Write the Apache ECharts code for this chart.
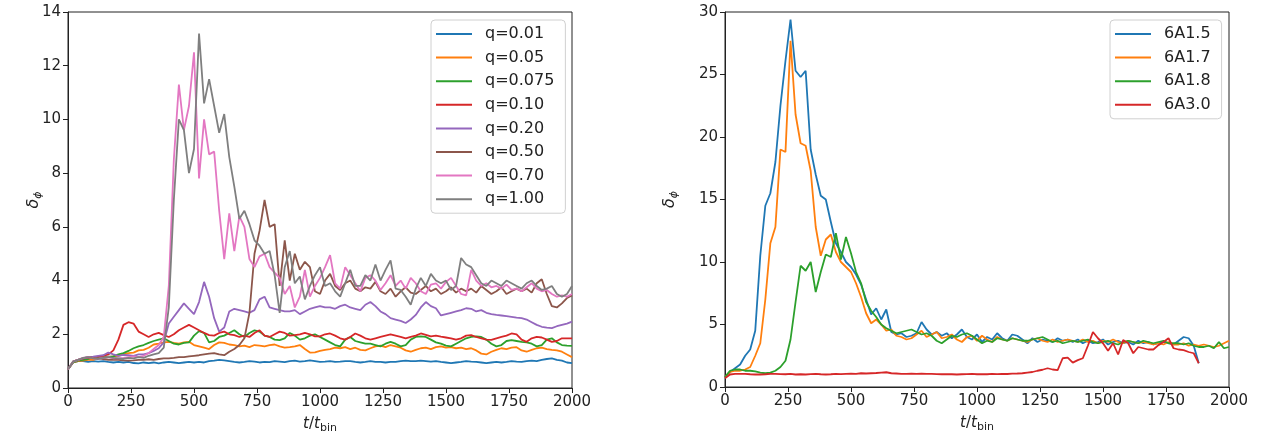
<!DOCTYPE html>
<html><head><meta charset="utf-8">
<script src="https://cdn.jsdelivr.net/npm/echarts@6/dist/echarts.min.js"></script>
<style>html,body{margin:0;padding:0;background:#fff}#c{width:1263px;height:441px}</style>
</head><body><div id="c"></div>
<script>
// time sampling of all series: t = index * STEP (t/t_bin)
const STEP = 20;
const X_TICKS = [0, 250, 500, 750, 1000, 1250, 1500, 1750, 2000];

// ---------- left panel: q runs ----------
const LEFT_NAMES = ['q=0.01','q=0.05','q=0.075','q=0.10','q=0.20','q=0.50','q=0.70','q=1.00'];
const Q001 = [0.70,0.95,1.00,1.00,0.97,1.00,0.98,1.00,0.97,0.95,
 0.97,0.95,0.97,0.93,0.92,0.95,0.93,0.95,0.92,0.95,
 0.97,0.95,0.93,0.95,0.97,0.95,0.97,0.95,1.00,1.02,
 1.05,1.03,1.00,0.97,0.95,0.97,1.00,0.98,0.95,0.97,
 0.96,1.00,0.98,0.96,1.00,1.02,0.98,1.00,1.03,1.00,
 0.97,0.98,1.00,0.97,0.98,1.00,1.00,0.97,0.95,0.97,
 1.00,0.97,0.97,0.95,0.97,0.97,1.00,1.02,1.00,1.00,
 1.02,1.00,0.98,1.00,0.97,0.95,0.93,0.95,0.97,1.00,
 0.98,0.97,0.95,0.93,0.95,0.97,0.95,0.97,1.00,0.98,
 0.97,1.00,1.02,1.00,1.05,1.08,1.10,1.05,1.02,0.95,
 0.93];
const Q005 = [0.70,0.95,1.00,1.02,1.05,1.05,1.10,1.12,1.15,1.18,
 1.20,1.25,1.30,1.32,1.40,1.42,1.50,1.62,1.65,1.70,
 1.72,1.68,1.65,1.70,1.72,1.60,1.55,1.50,1.45,1.60,
 1.70,1.68,1.62,1.60,1.55,1.58,1.52,1.60,1.58,1.55,
 1.60,1.62,1.55,1.50,1.52,1.55,1.60,1.45,1.32,1.33,
 1.38,1.42,1.45,1.50,1.48,1.52,1.45,1.50,1.42,1.40,
 1.48,1.55,1.58,1.52,1.60,1.55,1.50,1.40,1.35,1.42,
 1.48,1.50,1.45,1.52,1.55,1.50,1.52,1.48,1.50,1.45,
 1.48,1.40,1.28,1.25,1.35,1.42,1.48,1.45,1.50,1.52,
 1.40,1.35,1.42,1.48,1.50,1.45,1.42,1.40,1.35,1.25,
 1.15];
const Q0075 = [0.70,0.95,1.02,1.05,1.08,1.15,1.17,1.15,1.17,1.18,
 1.25,1.30,1.38,1.48,1.55,1.60,1.68,1.75,1.80,1.85,
 1.75,1.65,1.62,1.68,1.70,1.95,2.12,2.05,1.70,1.75,
 1.90,1.95,2.05,2.15,2.00,1.90,2.05,2.15,2.10,1.95,
 1.90,1.80,1.78,1.85,2.05,1.95,1.80,1.85,1.95,2.00,
 1.90,1.80,1.70,1.60,1.55,1.80,1.90,1.75,1.70,1.65,
 1.65,1.60,1.55,1.65,1.72,1.65,1.55,1.60,1.80,1.90,
 1.92,1.90,1.80,1.70,1.65,1.58,1.55,1.65,1.75,1.85,
 1.90,1.92,1.90,1.80,1.65,1.55,1.60,1.75,1.78,1.75,
 1.72,1.70,1.65,1.55,1.60,1.80,1.85,1.70,1.60,1.58,
 1.57];
const Q010 = [0.70,0.98,1.05,1.10,1.12,1.15,1.17,1.20,1.25,1.40,
 1.80,2.35,2.45,2.40,2.10,2.00,1.90,2.00,2.05,1.97,
 1.90,2.00,2.15,2.25,2.35,2.25,2.15,2.05,1.97,1.95,
 2.05,2.10,2.00,1.97,1.90,1.95,1.90,2.05,2.15,1.95,
 1.90,2.00,2.10,2.05,1.95,1.97,2.00,2.05,2.00,1.92,
 1.92,2.00,2.03,1.95,1.85,1.80,1.90,2.03,1.95,1.85,
 1.80,1.85,1.90,1.95,2.00,1.95,1.90,1.85,1.90,1.95,
 2.03,1.98,1.92,1.95,1.91,1.88,1.85,1.80,1.85,1.95,
 1.97,1.90,1.85,1.80,1.79,1.85,1.90,1.95,2.03,2.00,
 1.80,1.72,1.85,1.90,1.88,1.80,1.72,1.75,1.85,1.85,
 1.85];
const Q020 = [0.70,0.98,1.05,1.10,1.15,1.17,1.20,1.22,1.32,1.25,
 1.20,1.23,1.22,1.20,1.25,1.25,1.30,1.38,1.48,1.70,
 2.40,2.65,2.90,3.15,2.95,2.75,3.20,3.95,3.40,2.60,
 2.10,2.25,2.85,2.95,2.90,2.85,2.80,2.90,3.30,3.40,
 3.00,2.95,2.90,2.85,2.85,2.90,2.75,2.85,2.95,3.00,
 3.05,3.00,3.00,2.95,3.05,3.10,3.00,2.95,2.90,3.10,
 3.20,3.05,2.85,2.75,2.60,2.55,2.50,2.42,2.55,2.72,
 3.00,3.20,3.05,2.97,2.70,2.75,2.80,2.85,2.90,2.97,
 2.95,2.85,2.90,2.80,2.75,2.72,2.70,2.68,2.65,2.62,
 2.60,2.55,2.45,2.35,2.28,2.25,2.23,2.30,2.35,2.40,
 2.47];
const Q050 = [0.70,0.98,1.05,1.10,1.15,1.12,1.10,1.08,1.05,1.05,
 1.05,1.03,1.02,1.03,1.05,1.05,1.07,1.05,1.08,1.10,
 1.10,1.12,1.15,1.15,1.18,1.20,1.22,1.25,1.28,1.30,
 1.25,1.22,1.35,1.45,1.60,1.85,2.80,5.00,5.85,7.00,
 6.00,6.10,3.80,5.50,4.00,5.00,4.40,4.70,4.50,3.60,
 3.50,4.00,4.25,3.80,3.65,3.90,4.00,3.70,3.60,3.75,
 3.70,3.95,3.60,3.50,3.70,3.40,3.60,3.75,3.55,3.50,
 3.65,3.80,3.60,3.70,3.50,3.60,3.75,3.55,3.70,3.60,
 3.70,3.55,3.80,3.65,3.50,3.60,3.75,3.50,3.60,3.70,
 3.60,3.70,3.55,3.90,4.05,3.50,3.05,3.00,3.15,3.35,
 3.45];
const Q070 = [0.70,0.98,1.05,1.12,1.15,1.10,1.08,1.12,1.15,1.10,
 1.10,1.12,1.15,1.18,1.15,1.20,1.30,1.45,1.60,1.90,
 3.80,8.50,11.30,9.60,10.50,12.50,7.80,10.00,8.70,8.80,
 6.60,4.80,6.50,5.10,6.40,6.00,4.80,4.50,4.90,5.00,
 4.50,4.30,4.10,3.50,3.80,3.00,3.40,4.40,3.40,3.80,
 4.10,4.50,4.95,3.90,3.70,4.50,4.20,3.90,3.60,4.10,
 4.20,4.00,3.65,3.90,4.20,3.80,4.00,3.70,4.10,3.90,
 3.60,3.50,3.85,3.90,3.70,3.95,4.10,3.80,3.50,3.45,
 4.40,4.00,3.80,3.90,3.75,3.80,3.70,3.85,3.65,3.70,
 3.60,3.75,3.90,3.70,3.60,3.65,3.50,3.40,3.45,3.40,
 3.50];
const Q100 = [0.70,0.98,1.05,1.12,1.15,1.10,1.08,1.12,1.15,1.12,
 1.10,1.08,1.12,1.10,1.15,1.12,1.20,1.25,1.30,1.50,
 3.00,7.00,10.00,9.60,8.00,8.90,13.20,10.60,11.50,10.50,
 9.50,10.20,8.60,7.50,6.30,6.60,6.10,5.50,5.30,5.00,
 5.10,4.20,2.80,4.50,5.10,3.90,4.15,3.30,3.80,4.20,
 4.50,3.80,3.90,3.60,3.40,3.90,4.40,3.80,3.80,4.20,
 4.00,4.60,4.00,4.40,4.75,3.70,3.65,3.40,3.10,3.70,
 4.10,3.80,4.25,4.00,3.90,4.00,3.65,3.80,4.84,4.60,
 4.50,4.20,3.90,3.80,4.00,3.90,3.80,4.00,3.90,3.80,
 3.70,3.90,4.00,3.80,3.65,3.70,3.80,3.50,3.40,3.50,
 3.80];
const LEFT_DATA = [Q001, Q005, Q0075, Q010, Q020, Q050, Q070, Q100];
const LEFT_Y_TICKS = [0, 2, 4, 6, 8, 10, 12, 14];

// ---------- right panel: 6A runs ----------
const RIGHT_NAMES = ['6A1.5','6A1.7','6A1.8','6A3.0'];
const A15 = [0.80,1.20,1.50,1.80,2.50,3.00,4.50,10.50,14.50,15.50,
 18.00,22.50,26.10,29.40,25.30,24.80,25.30,19.00,17.00,15.30,
 15.00,13.20,11.50,10.80,10.00,9.60,9.00,8.20,7.00,5.80,
 6.30,5.40,6.20,4.40,4.20,4.30,4.00,4.10,4.30,5.20,
 4.60,4.20,4.40,4.10,4.30,3.90,4.20,4.60,4.00,3.80,
 4.20,3.60,4.00,3.80,4.30,3.90,3.70,4.20,4.10,3.80,
 3.50,3.90,3.60,3.80,3.70,3.60,3.90,3.70,3.80,3.60,
 3.80,3.50,3.70,3.50,3.60,3.80,3.40,3.60,3.70,3.50,
 3.60,3.40,3.70,3.50,3.60,3.40,3.50,3.60,3.50,3.40,
 3.70,4.00,3.90,3.30,1.90];
const A17 = [0.80,1.20,1.30,1.30,1.40,1.60,2.50,3.50,7.00,11.50,
 12.80,19.00,18.80,27.70,21.80,19.50,19.30,17.30,12.80,10.50,
 11.80,12.20,10.80,10.00,9.60,9.20,8.30,7.20,5.90,5.10,
 5.40,5.00,4.50,4.60,4.10,4.00,3.80,3.90,4.20,4.50,
 4.00,4.20,4.40,3.90,4.00,4.20,3.80,3.60,4.00,4.10,
 3.70,4.10,3.80,3.60,4.00,3.80,3.70,3.90,3.80,3.70,
 3.60,3.80,3.90,3.70,3.60,3.80,3.60,3.70,3.80,3.70,
 3.60,3.80,3.60,3.70,3.50,3.70,3.60,3.80,3.60,3.50,
 3.70,3.60,3.50,3.60,3.50,3.40,3.50,3.40,3.60,3.40,
 3.40,3.50,3.30,3.40,3.30,3.40,3.30,3.20,3.30,3.50,
 3.70];
const A18 = [0.80,1.30,1.40,1.40,1.30,1.30,1.25,1.15,1.10,1.15,
 1.30,1.60,2.10,3.80,6.80,9.70,9.30,10.00,7.60,9.20,
 10.60,10.40,12.30,10.20,12.00,10.70,9.20,8.30,6.80,6.10,
 5.60,5.00,4.70,4.50,4.30,4.40,4.50,4.60,4.40,4.20,
 4.30,4.10,3.70,3.50,3.80,4.10,4.00,4.20,4.30,4.10,
 3.80,3.50,3.70,3.60,3.90,3.80,3.70,3.90,3.80,3.70,
 3.70,3.80,3.90,4.00,3.80,3.60,3.70,3.50,3.60,3.70,
 3.60,3.70,3.80,3.60,3.50,3.60,3.70,3.50,3.40,3.60,
 3.70,3.60,3.50,3.70,3.60,3.50,3.60,3.70,3.50,3.50,
 3.50,3.40,3.50,3.30,3.20,3.20,3.30,3.10,3.60,3.10,
 3.20];
const A30 = [0.70,1.00,1.05,1.05,1.05,1.02,1.00,1.00,1.02,1.05,
 1.05,1.03,1.02,1.05,1.00,1.02,1.00,1.03,1.05,1.02,
 1.00,1.02,1.05,1.03,1.05,1.07,1.05,1.10,1.08,1.10,
 1.12,1.15,1.18,1.10,1.08,1.05,1.05,1.07,1.05,1.06,
 1.05,1.05,1.03,1.02,1.03,1.02,1.00,1.02,1.03,1.05,
 1.02,1.03,1.02,1.05,1.03,1.05,1.04,1.07,1.08,1.10,
 1.15,1.20,1.30,1.38,1.50,1.40,1.35,2.30,2.35,1.95,
 2.15,2.30,3.30,4.40,3.90,3.50,2.90,3.50,2.60,3.75,
 3.50,2.70,3.20,3.10,3.00,3.00,3.35,3.60,3.90,3.10,
 3.00,2.95,2.80,2.70,1.90];
const RIGHT_DATA = [A15, A17, A18, A30];
const RIGHT_Y_TICKS = [0, 5, 10, 15, 20, 25, 30];

const COLORS_LEFT = ['#1f77b4','#ff7f0e','#2ca02c','#d62728','#9467bd','#8c564b','#e377c2','#7f7f7f'];
const COLORS_RIGHT = ['#1f77b4','#ff7f0e','#2ca02c','#d62728'];

const FONT = 'DejaVu Sans';
const INK = '#222';

function xAxis(gridIndex) {
  return {
    type: 'value', gridIndex, min: X_TICKS[0], max: X_TICKS[X_TICKS.length-1],
    interval: X_TICKS[1]-X_TICKS[0],
    axisLine: {show: true, onZero: false, lineStyle: {color: INK, width: 1}},
    axisTick: {show: true, length: 5, lineStyle: {color: INK}},
    axisLabel: {color: INK, fontFamily: FONT, fontSize: 15, margin: 7, formatter: v => String(v)},
    splitLine: {show: false},
    name: '{i|t}{n|/}{i|t}{s|bin}', nameLocation: 'middle', nameGap: 26,
    nameTextStyle: {
      color: INK, fontFamily: FONT, fontSize: 15,
      rich: {
        i: {fontStyle: 'italic', fontFamily: FONT, fontSize: 15, color: INK},
        n: {fontFamily: FONT, fontSize: 15, color: INK},
        s: {fontFamily: FONT, fontSize: 11, color: INK, padding: [9, 0, 0, 0]}
      }
    }
  };
}
function yAxis(gridIndex, ticks, gap) {
  return {
    type: 'value', gridIndex, min: ticks[0], max: ticks[ticks.length-1],
    interval: ticks[1]-ticks[0],
    axisLine: {show: true, onZero: false, lineStyle: {color: INK, width: 1}},
    axisTick: {show: true, length: 5, lineStyle: {color: INK}},
    axisLabel: {color: INK, fontFamily: FONT, fontSize: 15, margin: 7, formatter: v => String(v)},
    splitLine: {show: false},
    name: '{i|δ}{s|ϕ}', nameLocation: 'middle', nameGap: gap, nameRotate: 90,
    nameMoveOverlap: false,
    nameTextStyle: {
      color: INK, fontFamily: FONT, fontSize: 15,
      rich: {
        i: {fontStyle: 'italic', fontFamily: FONT, fontSize: 16, color: INK},
        s: {fontStyle: 'italic', fontFamily: FONT, fontSize: 11, color: INK, padding: [9, 0, 0, 0]}
      }
    }
  };
}

function toPairs(arr) { return arr.map((v, i) => [i * STEP, v]); }

const series = [];
LEFT_NAMES.forEach((n, k) => series.push({
  name: n, type: 'line', xAxisIndex: 0, yAxisIndex: 0, data: toPairs(LEFT_DATA[k]),
  showSymbol: false, symbol: 'none', lineStyle: {width: 1.8, color: COLORS_LEFT[k]},
  itemStyle: {color: COLORS_LEFT[k]}, animation: false
}));
RIGHT_NAMES.forEach((n, k) => series.push({
  name: n, type: 'line', xAxisIndex: 1, yAxisIndex: 1, data: toPairs(RIGHT_DATA[k]),
  showSymbol: false, symbol: 'none', lineStyle: {width: 1.8, color: COLORS_RIGHT[k]},
  itemStyle: {color: COLORS_RIGHT[k]}, animation: false
}));

function legend(names, left, top) {
  return {
    data: names, left, top, orient: 'vertical',
    icon: 'rect', itemWidth: 36, itemHeight: 2, itemGap: 5.6,
    padding: [5, 11, 5, 5],
    backgroundColor: 'rgba(255,255,255,0.8)',
    borderColor: '#d0d0d0', borderWidth: 1, borderRadius: 4,
    textStyle: {color: INK, fontFamily: FONT, fontSize: 16, lineHeight: 18, padding: [0, 0, 0, 8]},
    selectedMode: false
  };
}

const chart = echarts.init(document.getElementById('c'), null, {renderer: 'canvas'});
chart.setOption({
  animation: false,
  backgroundColor: '#fff',
  grid: [
    {left: 68, top: 12, width: 504, height: 376, show: true, borderColor: INK, borderWidth: 1, backgroundColor: 'transparent'},
    {left: 725, top: 12, width: 504, height: 375, show: true, borderColor: INK, borderWidth: 1, backgroundColor: 'transparent'}
  ],
  xAxis: [xAxis(0), xAxis(1)],
  yAxis: [yAxis(0, LEFT_Y_TICKS, 24), yAxis(1, RIGHT_Y_TICKS, 45)],
  legend: [legend(LEFT_NAMES, 431, 20), legend(RIGHT_NAMES, 1110, 20)],
  series
});
</script>
</body></html>
